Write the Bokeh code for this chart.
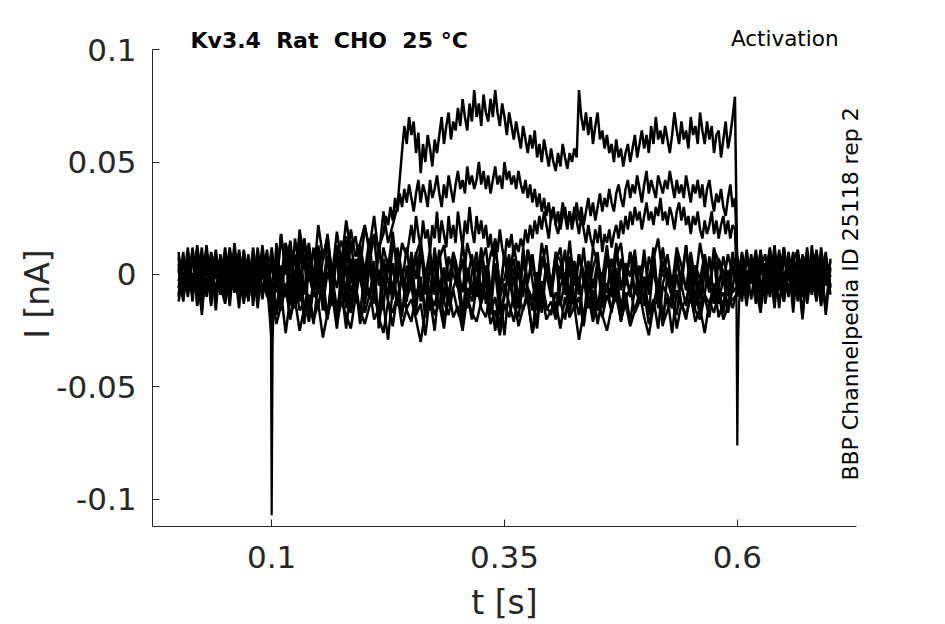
import numpy as np
from bokeh.plotting import figure
from bokeh.models import Label, FixedTicker, Range1d
from bokeh.embed import file_html
from bokeh.resources import INLINE

# ---------------- data: current in pA (1e-3 nA) ----------------
DT = 0.005        # coarse sampling step [s]
DT_FINE = 0.0025  # fine sampling step used for the activated part of the big traces [s]
T_PRE, T_STEP, T_POST = 0.0, 0.1, 0.6   # protocol: pre-pulse, test pulse, post-pulse

# --- trace A (largest current) ---
A_pre = [3, -8, 9, -5, 11, -9, 4, -11, 8, -3, 12, -7, 6, -10, 9, -4, 10, -8, 5, -6]
A_step1 = [12, -6, 18, 2, 15, -4, 20, 6, 14, -2, 22, 8, 16, 0, 19, 5, 24, 10, 17, 3,
           21, 12, 26, 8, 28, 14, 22, 30]
A_t_rise = 0.24
A_step2 = [55, 66, 58, 70, 62, 68, 54, 63, 45, 58, 50, 62, 56, 48, 60, 54,
           62, 70, 58, 66, 72, 60, 68, 64, 74, 66, 78, 70, 64, 76, 68, 82,
           70, 76, 66, 80, 72, 68, 78, 70, 82, 72, 66, 76, 70, 62, 72, 66,
           60, 68, 62, 56, 66, 60, 54, 62, 56, 64, 52, 58, 50, 60, 54, 48,
           56, 50, 46, 54, 48, 58, 52, 47, 54, 50, 56, 52, 82, 70, 64, 72,
           62, 70, 58, 66, 72, 60, 64, 56, 62, 54, 58, 50, 60, 52, 56, 48,
           54, 58, 50, 56, 62, 52, 58, 64, 56, 62, 54, 66, 58, 70, 60, 64,
           58, 66, 60, 54, 62, 72, 64, 58, 68, 60, 64, 56, 70, 62, 66, 58,
           72, 64, 58, 68, 60, 66, 54, 62, 64, 52, 60, 68, 56, 62, 70, 79]
A_post = [-2, 8, -9, 5, -6, 11, -4, 7, -12, 3, -7, 10, -5, 2, -10, 9, -3, 6, -11, 4, -1]

# --- trace B ---
B_pre = [-6, 10, -9, 7, -4, 12, -10, 5, -8, 9, -12, 6, -5, 11, -7, 8, -9, 4, -11, 7]
B_step1 = [-14, 8, -2, 14, 4, -6, 16, 2, 10, -4, 12, 6, 18, -2, 9, 15, 4, 20, 8, 14,
           22, 10, 18, 12]
B_t_rise = 0.22
B_step2 = [18, 26, 22, 30, 24, 34, 28, 36, 30, 38, 32, 40, 34, 28, 36, 42,
           32, 40, 36, 30, 42, 34, 38, 44, 36, 30, 40, 34, 44, 38, 32, 40,
           46, 38, 42, 36, 48, 40, 44, 38, 42, 50, 40, 46, 38, 44, 36, 42,
           48, 40, 44, 38, 50, 42, 46, 40, 44, 38, 46, 40, 36, 42, 34, 40,
           32, 38, 30, 36, 28, 34, 26, 32, 24, 30, 22, 28, 20, 26, 30, 22,
           28, 20, 26, 32, 24, 30, 22, 28, 34, 26, 32, 24, 30, 36, 28, 34,
           30, 38, 32, 28, 36, 40, 34, 30, 38, 42, 34, 40, 36, 44, 38, 32,
           40, 46, 36, 42, 38, 34, 44, 40, 36, 42, 38, 46, 40, 34, 42, 36,
           40, 34, 44, 38, 32, 40, 36, 42, 34, 40, 30, 38, 42, 34, 28, 36,
           32, 38, 30, 26, 34, 40, 30, 34]
B_post = [6, -8, 10, -3, 7, -14, 4, -6, 9, -2, 12, -9, 5, -4, 8, -13, 3, 10, -7, 5, 2]

# --- trace C ---
C_pre = [8, -4, 6, -12, 10, -6, 13, -5, 7, -9, 4, -14, 9, -2, 6, -10, 12, -5, 8, -3]
C_step1 = [-30, 10, -8, 14, -4, 9, -12, 16, 0, -9, 13, -3, 8, -14, 11, 2, -7, 15, -2, 10,
           -10, 6, 17, -5, 12, 3, 19, -1, 14, 8]
C_t_rise = 0.25
C_step2 = [22, 14, 26, 18, 12, 24, 16, 20, 10, 22, 16, 28, 14, 24, 18, 12,
           26, 16, 22, 14, 28, 20, 12, 24, 18, 30, 20, 14, 26, 18, 24, 16,
           22, 12, 18, 8, 16, 10, 20, 12, 6, 16, 12, 18, 8, 14, 10, 16,
           12, 20, 14, 22, 16, 24, 18, 26, 20, 28, 22, 16, 26, 30, 22, 18,
           24, 32, 26, 20, 28, 22, 30, 24, 18, 26, 20, 14, 22, 16, 12, 20,
           14, 22, 10, 18, 14, 20, 12, 18, 22, 16, 24, 18, 26, 20, 28, 22,
           30, 24, 28, 20, 26, 32, 24, 28, 22, 30, 26, 34, 24, 28, 22, 30,
           26, 20, 28, 32, 24, 30, 22, 26, 18, 26, 22, 28, 20, 16, 24, 18,
           22, 28, 18, 24, 16, 22, 26, 18, 24, 16, 22, 20]
C_post = [-10, 3, -5, 9, -11, 6, -2, 12, -8, 4, -3, 7, -17, 9, -1, 5, -9, 11, -4, 8, -6]

# --- small / non-activated traces ---
D_pre = [-10, 5, -3, 9, -13, 7, -6, 10, -2, 6, -8, 11, -4, 7, -12, 3, -6, 12, -9, 6]
D_step = [-25, 14, -6, 10, -12, 16, 2, -9, 12, -4, 8, -14, 15, -1, 6, -10, 13, 0, -7, 11,
          -3, 9, -13, 14, -5, 7, -11, 12, 1, -8, 10, -2, 13, -9, 6, -4, 11, -12, 8, 0,
          -6, 14, -3, 9, -10, 5, 12, -7, 3, -11, 10, -1, 7, -13, 12, -4, 9, -8, 4, 13,
          -6, 8, -2, 11, -10, 6, -5, 12, -9, 3, 10, -12, 7, -3, 14, -7, 5, -1, 11, -9,
          8, -4, 12, -11, 6, 0, -8, 10, -5, 13, -10, 4, -2, 9, -7, 12, -6, 8, -3, 6]
D_post = [4, -12, 7, -1, 11, -7, 3, -10, 6, -15, 8, -2, 10, -6, 4, -11, 13, -5, 7, -18, 3]

E_pre = [5, -12, 8, -2, 6, -18, 9, -4, 11, -7, 3, -9, 14, -6, 2, -11, 7, -3, 10, -8]
E_step = [6, -18, 4, -10, 9, -15, -2, -22, 5, -8, 2, -16, 8, -6, -20, 3, -12, 7, -4, -17,
          1, -11, 6, -24, -3, -9, 5, -14, 0, -7, 8, -13, -1, -19, 4, -6, -15, 3, -10, 7,
          -5, -21, 2, -8, 6, -12, -2, -18, 5, -9, -27, -4, 3, -14, 7, -7, -16, 1, -11, 5,
          -3, -19, 4, -9, 8, -13, -1, -22, 2, -6, 6, -15, -4, -10, 3, -20, 0, -8, 7, -12,
          -2, -17, 5, -7, -23, 1, -11, 6, -5, -14, 3, -9, -18, 2, -6, 7, -13, -1, -16, 4]
E_post = [-6, 10, -3, 6, -9, 2, 9, -5, 13, -7, 1, -10, 6, 11, -4, 2, -8, 5, -2, 10, -9]

F_pre = [-3, 7, -10, 12, -5, 3, -9, 6, -16, 8, -4, 10, -8, 4, -6, 9, -14, 8, -2, 11]
F_step = [-8, 2, -16, -4, -20, -6, 0, -14, -10, -22, -3, -12, -18, -1, -15, -7, -24, -5, -11, 2,
          -17, -9, -2, -19, -13, -29, -6, -10, -1, -16, -21, -8, -4, -14, -11, -25, -3, -12, -18, -6,
          0, -15, -9, -20, -5, -13, -2, -17, -10, -23, -7, -1, -14, -19, -4, -11, -26, -8, -3, -16,
          -12, -20, -5, 0, -13, -9, -18, -2, -15, -7, -22, -10, -4, -17, -1, -14, -8, -21, -6, -12,
          -3, -18, -11, -24, -5, -9, -15, 0, -13, -20, -7, -2, -16, -10, -19, -4, -12, -8, -17, -6]
F_post = [8, -4, 2, -11, 5, -3, -9, 8, -1, 6, -12, 3, -6, 9, -20, 7, 0, -12, 4, -5, 6]

G_pre = [10, -7, 3, -8, 6, -4, 11, -13, 5, -2, 9, -6, 3, -8, 11, -5, 4, -15, 7, -1]
G_step = [-12, 4, -8, 10, -14, 0, -4, 8, -18, -2, 6, -10, -20, 2, -6, 9, -15, -1, -9, 5,
          -13, 3, -7, -17, 7, -3, -11, 1, -19, 4, -5, 10, -12, -2, -16, 6, -8, 0, -14, 8,
          -1, -21, 3, -9, -4, 7, -13, -6, 2, -18, -10, 5, -3, -15, 9, -7, -11, 0, -17, 3,
          -6, 8, -14, -2, -19, 4, -9, -4, 6, -12, -16, 1, -8, 7, -3, -20, 2, -10, 5, -13,
          -1, -7, 9, -15, -4, 3, -11, -18, 0, -6, 6, -14, -2, -9, 8, -12, -5, -17, 2, -8]
G_post = [-5, 2, -7, 4, -2, 9, -13, 1, -4, 11, -8, 6, 0, -9, 5, -3, 8, -8, 12, -4, -2]

H_pre = [7, -5, 12, -9, 2, -13, 8, -1, 10, -6, 4, -10, 11, -3, 6, -12, 9, -7, 13, -4]
H_step = [10, -8, 18, 0, 14, -6, 9, 16, -3, 12, -9, 7, 15, -2, 11, -7, 17, 3, -5, 13,
          1, 16, -8, 10, 4, -11, 14, 6, -4, 12, -6, 9, 15, -1, 11, -9, 7, 13, -3, 10,
          2, -8, 14, 5, -5, 12, -2, 9, 15, -7, 8, -4, 13, 0, -10, 11, 4, -6, 14, 2,
          -7, 10, 6, -3, 15, -5, 9, 1, -9, 12, 5, -2, 13, -8, 8, 14, -4, 10, 3, -6,
          11, -9, 7, 16, -1, 9, -5, 12, 4, -7, 10, -3, 14, 2, -8, 11, 6, -4, 9, 0]
H_post = [3, -9, 11, -4, 8, -12, 5, -1, 9, -6, 12, -3, 7, -10, 2, 10, -7, 4, -13, 8, -5]

I_pre = [-9, 6, -4, 11, -14, 3, -7, 9, -11, 5, -2, 12, -8, 1, -13, 7, -5, 10, -10, 4]
I_step = [-4, -18, -8, -26, -10, -3, -16, -12, -21, -6, -14, -2, -19, -9, -24, -7, -13, -17, -4, -22,
          -11, -6, -20, -15, -1, -12, -23, -8, -16, -10, -5, -18, -13, -27, -9, -14, -3, -20, -11, -7,
          -17, -22, -6, -12, -2, -15, -19, -8, -25, -10, -4, -13, -21, -9, -16, -6, -11, -24, -3, -14,
          -18, -8, -12, -20, -5, -15, -10, -23, -7, -2, -13, -19, -9, -16, -4, -21, -11, -6, -17, -12,
          -8, -22, -14, -3, -18, -10, -26, -7, -15, -11, -5, -16, -20, -9, -13, -4, -19, -12, -8, -15]
I_post = [-7, 5, -12, 2, -5, 10, -9, 4, -15, 7, -3, 9, -11, 1, -6, 12, -8, 3, -14, 6, -1]

J_pre = [2, -11, 7, -6, 13, -3, 5, -14, 9, -1, 6, -9, 3, -15, 10, -2, 8, -12, 4, -7]
J_step = [-20, 5, -12, 9, -4, -15, 12, -7, 3, -10, 8, -13, 1, -6, 13, -9, 4, -16, 7, -2,
          -11, 10, -5, 2, -14, 6, -8, 11, -3, -12, 5, -17, 9, -1, -9, 12, -6, 3, -13, 8,
          -4, 7, -15, 1, 10, -8, 4, -11, 13, -5, -2, 9, -14, 6, -7, 11, -3, -16, 8, 0,
          -10, 5, 12, -6, 2, -13, 9, -4, 6, -18, 3, -8, 11, -1, -12, 7, -5, 10, -9, 4,
          -14, 8, 0, -7, 12, -3, -10, 6, -2, 13, -6, 4, -11, 9, -4, -13, 7, 1, -8, 10]
J_post = [-4, 9, -8, 1, -13, 7, -2, 11, -6, 3, -10, 6, 0, -12, 9, -5, 4, -9, 2, -16, 7]

K_pre = [-12, 1, -6, 8, -3, -16, 4, -9, 7, -5, -13, 2, -8, 10, -2, -11, 5, -7, 1, -10]
K_step = [-8, -22, -14, -6, -19, -11, -25, -15, -9, -20, -13, -28, -17, -7, -21, -12, -18, -24, -10, -16,
          -22, -14, -8, -19, -26, -12, -17, -9, -23, -15, -11, -20, -30, -16, -9, -18, -13, -24, -7, -19,
          -14, -25, -10, -17, -21, -12, -8, -22, -16, -27, -13, -19, -9, -23, -15, -11, -26, -18, -8, -20,
          -16, -12, -24, -10, -19, -14, -29, -17, -9, -21, -12, -18, -25, -15, -10, -20, -13, -23, -16, -8,
          -19, -27, -14, -11, -22, -16, -9, -24, -13, -18, -10, -21, -15, -26, -12, -17, -8, -20, -14, -11]
K_post = [-9, 3, -14, 6, -6, -17, 2, -8, 8, -4, -12, 5, -10, 0, -19, 4, -7, 9, -11, 1, -5]

# capacitive transients at pulse on / off (fine time resolution)
ON_T = [0.099, 0.1, 0.101, 0.102, 0.104]
ON_I = [-5, -107, -30, -14, -4]
OFF_T = [0.599, 0.6, 0.601, 0.602, 0.604]
OFF_I = [-6, -76, -28, -12, -3]

# each trace: list of (segment start [s], sampling step [s], values [pA])
TRACES = [
    [(T_PRE, DT, A_pre), (T_STEP, DT, A_step1), (A_t_rise, DT_FINE, A_step2), (T_POST, DT, A_post)],
    [(T_PRE, DT, B_pre), (T_STEP, DT, B_step1), (B_t_rise, DT_FINE, B_step2), (T_POST, DT, B_post)],
    [(T_PRE, DT, C_pre), (T_STEP, DT, C_step1), (C_t_rise, DT_FINE, C_step2), (T_POST, DT, C_post)],
    [(T_PRE, DT, D_pre), (T_STEP, DT, D_step), (T_POST, DT, D_post)],
    [(T_PRE, DT, E_pre), (T_STEP, DT, E_step), (T_POST, DT, E_post)],
    [(T_PRE, DT, F_pre), (T_STEP, DT, F_step), (T_POST, DT, F_post)],
    [(T_PRE, DT, G_pre), (T_STEP, DT, G_step), (T_POST, DT, G_post)],
    [(T_PRE, DT, H_pre), (T_STEP, DT, H_step), (T_POST, DT, H_post)],
    [(T_PRE, DT, I_pre), (T_STEP, DT, I_step), (T_POST, DT, I_post)],
    [(T_PRE, DT, J_pre), (T_STEP, DT, J_step), (T_POST, DT, J_post)],
    [(T_PRE, DT, K_pre), (T_STEP, DT, K_step), (T_POST, DT, K_post)],
]

X_TICKS = [0.1, 0.35, 0.6]
X_TICK_LABELS = ["0.1", "0.35", "0.6"]
Y_TICKS = [-0.1, -0.05, 0.0, 0.05, 0.1]
Y_TICK_LABELS = ["-0.1", "-0.05", "0", "0.05", "0.1"]
X_AXIS_SPAN = (-0.028, 0.7277)   # extent of the drawn x axis [s]
Y_AXIS_SPAN = (-0.112, 0.1)      # extent of the drawn y axis [nA]

TITLE = "Kv3.4\u00a0 Rat\u00a0 CHO\u00a0 25 °C"
PROTOCOL = "Activation"
SOURCE = "BBP Channelpedia ID 25118 rep 2"
XLABEL = "t [s]"
YLABEL = "I [nA]"

PA_TO_NA = 1e-3

# ---------------- figure: the frame covers the whole canvas, axes are pinned ----------------
W, H = 944, 622
p = figure(width=W, height=H, output_backend="svg", toolbar_location=None, title=None,
           x_range=Range1d(-0.19123, 0.82251), y_range=Range1d(-0.15467, 0.12178),
           min_border_left=0, min_border_right=0, min_border_top=0, min_border_bottom=0)
p.outline_line_color = None
p.grid.visible = False
p.background_fill_color = "white"
p.border_fill_color = "white"

LW = 2.5
for segments in TRACES:
    ts, vs = [], []
    for t0, dt, vals in segments:
        ts.append(t0 + dt * np.arange(len(vals)))
        vs.append(np.asarray(vals, dtype=float) * PA_TO_NA)
    p.line(np.concatenate(ts), np.concatenate(vs), line_color="black", line_width=LW)

p.line(ON_T, np.array(ON_I) * PA_TO_NA, line_color="black", line_width=2.2)
p.line(OFF_T, np.array(OFF_I) * PA_TO_NA, line_color="black", line_width=2.2)

AX = "#262626"
for ax in (p.xaxis, p.yaxis):
    ax.axis_line_color = AX
    ax.axis_line_width = 1
    ax.major_tick_line_color = AX
    ax.major_tick_in = 7
    ax.major_tick_out = 0
    ax.minor_tick_line_color = None
    ax.major_label_text_font = "DejaVu Sans"
    ax.major_label_text_font_size = "31px"
    ax.major_label_text_color = AX

p.xaxis.ticker = FixedTicker(ticks=X_TICKS)
p.xaxis.major_label_overrides = dict(zip(X_TICKS, X_TICK_LABELS))
p.xaxis.major_label_standoff = 20
p.xaxis.bounds = X_AXIS_SPAN
p.xaxis.fixed_location = Y_AXIS_SPAN[0]

p.yaxis.ticker = FixedTicker(ticks=Y_TICKS)
p.yaxis.major_label_overrides = dict(zip(Y_TICKS, Y_TICK_LABELS))
p.yaxis.major_label_standoff = 16
p.yaxis.bounds = Y_AXIS_SPAN
p.yaxis.fixed_location = X_AXIS_SPAN[0]

def add_label(**kw):
    base = dict(text_font="DejaVu Sans", text_color="black", text_baseline="alphabetic")
    base.update(kw)
    p.add_layout(Label(**base))

add_label(x=0.0128, y=0.10418, text=TITLE, text_font_size="22px", text_font_style="bold",
          text_align="left")
add_label(x=0.7087, y=0.10467, text=PROTOCOL, text_font_size="21.5px", text_align="right")
add_label(x=0.72188, y=-0.0916, text=SOURCE, text_font_size="22px", text_align="left",
          angle=np.pi / 2)
add_label(x=0.35, y=-0.14578, text=XLABEL, text_font_size="33px", text_align="center",
          text_color=AX)
add_label(x=-0.15172, y=-0.0087, text=YLABEL, text_font_size="33px", text_align="center",
          text_color=AX, angle=np.pi / 2)

open("out.html", "w").write(file_html(p, INLINE))
